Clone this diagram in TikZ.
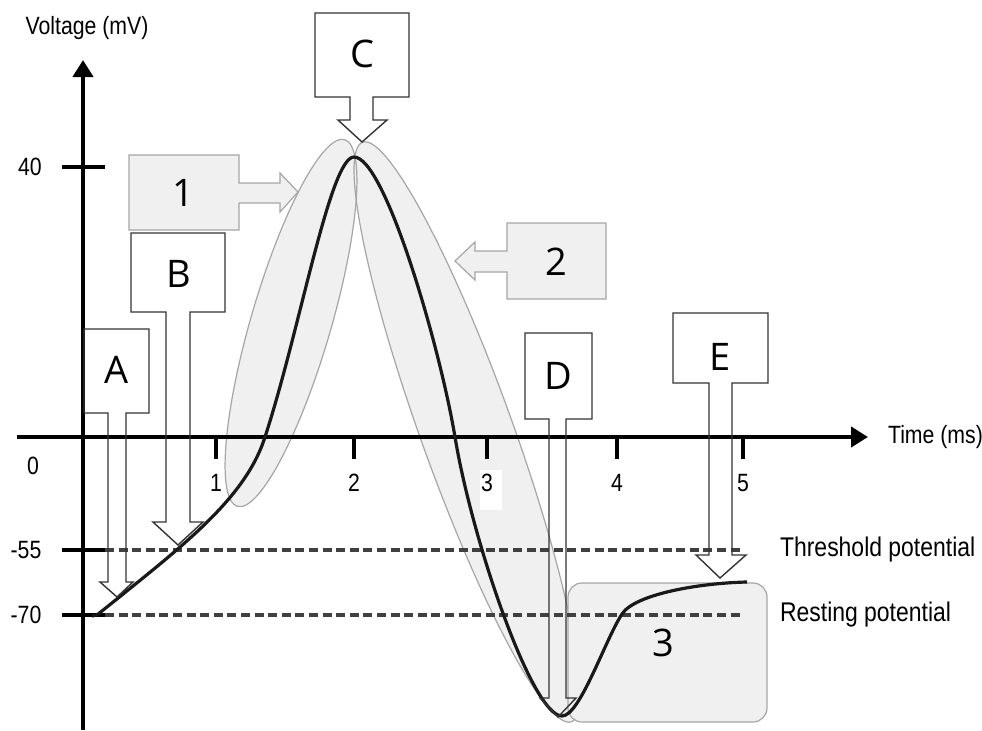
\documentclass[tikz,border=0pt]{standalone}
\usepackage{fontspec}
\setmainfont[FakeStretch=0.85]{Liberation Sans}
\newfontfamily\boxfont{Open Sans}
\usetikzlibrary{arrows.meta}

\begin{document}
\begin{tikzpicture}[x=0.5pt,y=-0.5pt,
		axisline/.style={line width=2.2pt, -{Triangle[length=8.5pt,width=10pt]}},
		tickline/.style={line width=2.2pt},
		levelline/.style={dash pattern=on 4.5pt off 2.3pt, line width=1.7pt, black!75},
		callout/.style={draw=black!80, line width=0.7pt, line join=miter},
		grayzone/.style={draw=black!35, fill=black!6, line width=0.6pt},
		boxlabel/.style={font=\boxfont\fontsize{19}{20}\selectfont},
		axislabel/.style={font=\fontsize{12.5}{14}\selectfont},
		levellabel/.style={font=\fontsize{13.5}{15}\selectfont, anchor=west}]
			\useasboundingbox (0,0) rectangle (982,730);
			% shaded phases
			\fill[black!6] (291,323) [rotate around={73.7:(291,323)}] ellipse (191 and 40);
			\fill[black!6] (467,432) [rotate around={109.8:(467,432)}] ellipse (308 and 46);
			\draw[black!35, line width=0.6pt] (291,323) [rotate around={73.7:(291,323)}] ellipse (191 and 40);
			\draw[black!35, line width=0.6pt] (467,432) [rotate around={109.8:(467,432)}] ellipse (308 and 46);
			\draw[grayzone, rounded corners=7pt] (568,583) rectangle (767,722);
			\fill[white] (480,470) rectangle (502,510);
			
			% levels
			\draw[levelline] (105,550)--(742,550);
			\draw[levelline] (105,615)--(742,615);
			
			% axes
			\draw[axisline] (83,730)--(83,60);
			\draw[axisline] (17,437)--(868,437);
			\foreach \y in {167,550,615}
				\draw[tickline] (62,\y)--(105,\y);
			\foreach \x/\t in {216/1,354/2,487/3,617/4,743/5}{
				\draw[tickline] (\x,437)--(\x,459);
				\node[axislabel] (tick\t) at (\x,483) {\t};
			}
			\node[axislabel] (ylabel) at (87,28) {Voltage (mV)};
			\node[axislabel, anchor=west] (xlabel) at (881,437) {Time (ms)};
			\node[axislabel] (zero) at (33,466) {0};
			\node[axislabel] (v40) at (30,167) {40};
			\node[axislabel] (v55) at (26,550) {-55};
			\node[axislabel] (v70) at (26,615) {-70};
			\node[levellabel] (thresh) at (773,550) {Threshold potential};
			\node[levellabel] (rest) at (773,615) {Resting potential};
			
			% action potential
			\draw[line width=1.6pt, black!90] (92,616)--(97,615)
				.. controls (180,548) and (245,500) .. (265,437)
				.. controls (300,330) and (330,157) .. (354,157)
				.. controls (385,157) and (440,347) .. (455,437)
				.. controls (472,540) and (532,716) .. (562,716)
				.. controls (580,716) and (605,640) .. (622,614)
				.. controls (635,594) and (700,583) .. (747,582);
			
			% callouts
			\draw[callout] (84,329)--(149,329)--(149,413)--(126,413)--(126,582)--(133,582)--(117,597)--(100,582)--(108,582)--(108,413)--(84,413)--cycle;
			\draw[callout] (131,233)--(225,233)--(225,312)--(190,312)--(190,522)--(203,522)--(178,545)--(153,522)--(166,522)--(166,312)--(131,312)--cycle;
			\draw[callout] (315,13)--(409,13)--(409,97)--(373,97)--(373,120)--(387,120)--(362,142)--(338,120)--(350,120)--(350,97)--(315,97)--cycle;
			\draw[callout] (525,333)--(592,333)--(592,419)--(566,419)--(566,698)--(576,698)--(558,717)--(540,698)--(549,698)--(549,419)--(525,419)--cycle;
			\draw[callout] (673,313)--(768,313)--(768,383)--(732,383)--(732,555)--(746,555)--(720,578)--(696,555)--(709,555)--(709,383)--(673,383)--cycle;
			\draw[grayzone] (129,155)--(239,155)--(239,183)--(280,183)--(280,173)--(298,192)--(280,212)--(280,203)--(239,203)--(239,230)--(129,230)--cycle;
			\draw[grayzone] (606,223)--(507,223)--(507,251)--(475,251)--(475,242)--(455,261)--(475,280)--(475,272)--(507,272)--(507,299)--(606,299)--cycle;
			
			\node[boxlabel] (labA) at (117,370) {A};
			\node[boxlabel] (labB) at (179,274) {B};
			\node[boxlabel] (labC) at (362,54) {C};
			\node[boxlabel] (labD) at (558,376) {D};
			\node[boxlabel] (labE) at (720,357) {E};
			\node[boxlabel] (lab1) at (183,193) {1};
			\node[boxlabel] (lab2) at (556,262) {2};
			\node[boxlabel] (lab3) at (663,643) {3};
			
		\end{tikzpicture}
\end{document}
